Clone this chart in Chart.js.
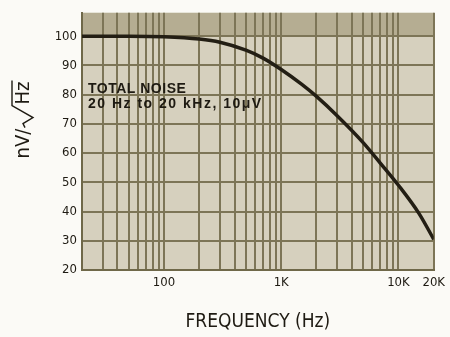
<!DOCTYPE html>
<html>
<head>
<meta charset="utf-8">
<script src="https://cdn.jsdelivr.net/npm/chart.js@4/dist/chart.umd.min.js"></script>
<style>
  html, body { margin: 0; padding: 0; background: #fbfaf6; }
  #wrap { width: 450px; height: 337px; position: relative; }
</style>
</head>
<body>
<div id="wrap"><canvas id="noise"></canvas></div>
<script>
// ===== Data =====
const freqHz  = [20, 50, 100, 200, 300, 500, 700, 1000, 1500, 2000, 3000, 5000, 7000, 10000, 15000, 20000];
const noiseNv = [100, 100, 99.8, 99.0, 97.9, 95.2, 92.5, 88.6, 83.5, 79.4, 72.8, 63.6, 56.6, 49.0, 39.3, 30.5];

const xGridHz   = [20, 30, 40, 50, 60, 70, 80, 90,
                   100, 200, 300, 400, 500, 600, 700, 800, 900,
                   1000, 2000, 3000, 4000, 5000, 6000, 7000, 8000, 9000,
                   10000, 20000];
const xTickText = { 100: '100', 1000: '1K', 10000: '10K', 20000: '20K' };
const yTicks    = [20, 30, 40, 50, 60, 70, 80, 90, 100];
const noteLines = ['TOTAL NOISE', '20 Hz to 20 kHz, 10\u03bcV'];

const tickFont = { family: '"Liberation Sans Narrow", "DejaVu Sans Condensed", sans-serif', size: 13 };

// ===== Plugins =====
const paperBg = {
  id: 'paperBg',
  beforeDraw(chart) {
    const { ctx, chartArea: a, scales: { y } } = chart;
    ctx.save();
    ctx.fillStyle = '#d6d0be';
    ctx.fillRect(a.left, a.top, a.right - a.left, a.bottom - a.top);
    // darker strip above the 100 line
    const y100 = y.getPixelForValue(100);
    ctx.fillStyle = '#b5ad92';
    ctx.fillRect(a.left, a.top, a.right - a.left, y100 - a.top);
    ctx.restore();
  }
};

const notes = {
  id: 'notes',
  afterDatasetsDraw(chart) {
    const { ctx, scales: { x, y } } = chart;
    const left = x.getPixelForValue(20) + 6;
    ctx.save();
    ctx.fillStyle = '#1e1a12';
    ctx.font = 'bold 14px "Liberation Sans", Arial, sans-serif';
    ctx.textBaseline = 'middle';
    ctx.letterSpacing = '0.5px';
    ctx.fillText(noteLines[0], left, y.getPixelForValue(81.8));
    ctx.letterSpacing = '1.5px';
    ctx.fillText(noteLines[1], left, y.getPixelForValue(76.8));
    ctx.restore();
  }
};

// y axis unit: nV/√Hz with the root bar over Hz
const yUnit = {
  id: 'yUnit',
  afterDraw(chart) {
    const { ctx } = chart;
    ctx.save();
    ctx.translate(23, 120);
    ctx.rotate(-Math.PI / 2);
    ctx.fillStyle = '#1e1a12';
    ctx.strokeStyle = '#1e1a12';
    ctx.font = '20px "Liberation Sans Narrow", "DejaVu Sans Condensed", sans-serif';
    ctx.textBaseline = 'middle';
    const a = 'nV/', b = 'Hz';
    const wa = ctx.measureText(a).width;
    const wb = ctx.measureText(b).width;
    const rootW = 24;
    const total = wa + rootW + wb;
    let px = -total / 2;
    ctx.fillText(a, px, 1);
    px += wa;
    // radical sign
    ctx.lineWidth = 1.4;
    ctx.beginPath();
    ctx.moveTo(px + 1, 2);
    ctx.lineTo(px + 5, 0);
    ctx.lineTo(px + 11, 10);
    ctx.lineTo(px + rootW - 1, -11);
    ctx.lineTo(px + rootW + wb + 1, -11);
    ctx.stroke();
    px += rootW;
    ctx.fillText(b, px, 1);
    ctx.restore();
  }
};

// ===== Chart =====
new Chart(document.getElementById('noise'), {
  type: 'line',
  data: {
    datasets: [{
      data: freqHz.map((f, i) => ({ x: f, y: noiseNv[i] })),
      borderColor: '#231e14',
      borderWidth: 3.5,
      pointRadius: 0,
      fill: false,
      cubicInterpolationMode: 'monotone'
    }]
  },
  options: {
    responsive: true,
    maintainAspectRatio: false,
    animation: false,
    layout: { padding: { top: 10, right: 13, left: 0, bottom: 0 } },
    plugins: { legend: { display: false }, tooltip: { enabled: false } },
    scales: {
      x: {
        type: 'logarithmic',
        min: 20,
        max: 20000,
        afterBuildTicks: s => { s.ticks = xGridHz.map(v => ({ value: v })); },
        afterFit: s => { s.height = 67; },
        grid: { color: '#7d7557', lineWidth: 2, drawTicks: false },
        border: { color: '#6f6849', width: 2 },
        ticks: {
          autoSkip: false,
          maxRotation: 0,
          padding: 5,
          color: '#1e1a12',
          font: tickFont,
          callback: v => xTickText[v] || ''
        },
        title: {
          display: true,
          text: 'FREQUENCY (Hz)',
          color: '#1e1a12',
          font: { family: '"Liberation Sans Narrow", "DejaVu Sans Condensed", sans-serif', size: 19 },
          padding: { top: 0, bottom: 4 }
        }
      },
      y: {
        min: 20,
        max: 108,
        afterBuildTicks: s => { s.ticks = yTicks.map(v => ({ value: v })); },
        afterFit: s => { s.width = 82; },
        grid: { color: '#7d7557', lineWidth: 2, drawTicks: false },
        border: { color: '#6f6849', width: 2 },
        ticks: { padding: 5, color: '#1e1a12', font: tickFont }
      }
    }
  },
  plugins: [paperBg, notes, yUnit]
});
</script>
</body>
</html>
